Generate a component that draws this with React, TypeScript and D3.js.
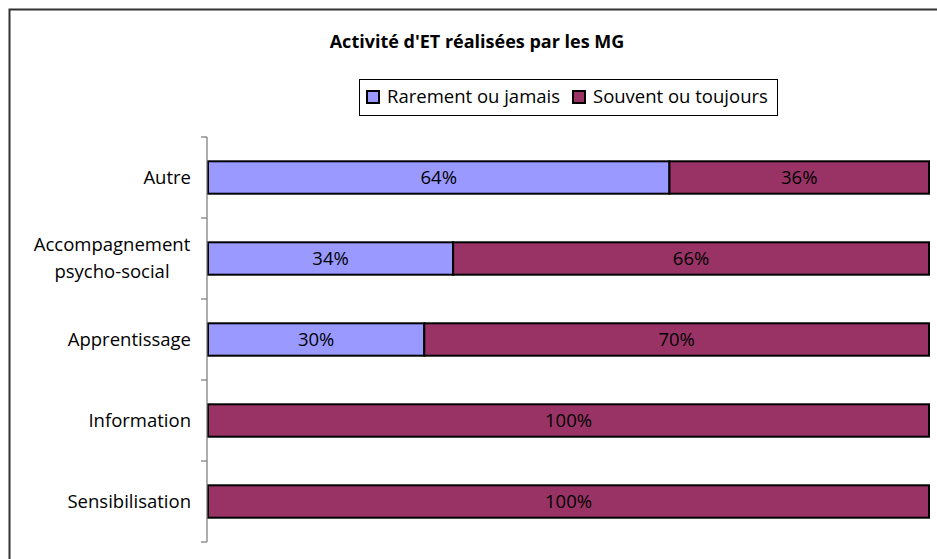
import React, { useEffect, useRef } from "react";
import * as d3 from "d3";

const categories = ["Autre", "Accompagnement psycho-social", "Apprentissage", "Information", "Sensibilisation"];
const categoryLines = [["Autre"], ["Accompagnement", "psycho-social"], ["Apprentissage"], ["Information"], ["Sensibilisation"]];
const seriesNames = ["Rarement ou jamais", "Souvent ou toujours"];
const rarement = [64, 34, 30, 0, 0];
const souvent = [36, 66, 70, 100, 100];
const colors = ["#9999FF", "#993366"];

const FONT = "'Open Sans', Lato, sans-serif";

const App = () => {
  const svgRef = useRef<SVGSVGElement | null>(null);

  useEffect(() => {
    const width = 937;
    const height = 559;
    const margin = { top: 137, right: 8, bottom: 17, left: 208 };
    const svg = d3.select(svgRef.current);
    svg.selectAll("*").remove();

    // chart frame
    svg.append("rect")
      .attr("x", 9.5).attr("y", 9.5)
      .attr("width", 940).attr("height", 560)
      .attr("fill", "white").attr("stroke", "#333").attr("stroke-width", 2);

    const x = d3.scaleLinear().domain([0, 100]).range([margin.left, width - margin.right]);
    const y = d3.scaleBand().domain(categories).range([margin.top, height - margin.bottom]).paddingInner(0.6).paddingOuter(0.3);

    const rows = categories.map((c, i) => ({ c, vals: [rarement[i], souvent[i]] }));
    const stack = d3.stack<any>().keys(["0", "1"]).value((d, k) => d.vals[+k]);
    const series = stack(rows);

    series.forEach((s, si) => {
      const g = svg.append("g");
      s.forEach((d, i) => {
        const v = d[1] - d[0];
        if (v <= 0) return;
        const cy = y(categories[i])!;
        g.append("rect")
          .attr("x", x(d[0])).attr("y", cy)
          .attr("width", x(d[1]) - x(d[0])).attr("height", y.bandwidth())
          .attr("fill", colors[si]).attr("stroke", "#000").attr("stroke-width", 2);
        g.append("text")
          .attr("x", (x(d[0]) + x(d[1])) / 2).attr("y", cy + y.bandwidth() / 2)
          .attr("dy", "0.35em").attr("text-anchor", "middle")
          .attr("font-family", FONT).attr("font-size", 18.5).attr("fill", "#000")
          .text(`${v}%`);
      });
    });

    // y axis with boundary ticks
    const step = y.step();
    const axis = svg.append("g").attr("stroke", "#777").attr("stroke-width", 1.2);
    axis.append("line").attr("x1", 207).attr("x2", 207).attr("y1", margin.top).attr("y2", height - margin.bottom);
    d3.range(categories.length + 1).forEach((i) => {
      const ty = margin.top + i * step;
      axis.append("line").attr("x1", 201).attr("x2", 207).attr("y1", ty).attr("y2", ty);
    });

    categories.forEach((c, i) => {
      const lines = categoryLines[i];
      const cy = y(c)! + y.bandwidth() / 2;
      const t = svg.append("text")
        .attr("font-family", FONT).attr("font-size", 18.5).attr("fill", "#000")
        .attr("text-anchor", lines.length > 1 ? "middle" : "end");
      lines.forEach((l, j) => {
        t.append("tspan")
          .attr("x", lines.length > 1 ? 112 : 191)
          .attr("y", cy + (j - (lines.length - 1) / 2) * 27)
          .attr("dy", "0.35em")
          .text(l);
      });
    });

    // title
    svg.append("text")
      .attr("x", 477).attr("y", 42).attr("dy", "0.35em").attr("text-anchor", "middle")
      .attr("font-family", FONT).attr("font-size", 18).attr("font-weight", "bold")
      .text("Activité d'ET réalisées par les MG");

    // legend
    const lg = svg.append("g");
    lg.append("rect").attr("x", 359.5).attr("y", 79.5).attr("width", 418).attr("height", 36)
      .attr("fill", "white").attr("stroke", "#000").attr("stroke-width", 1);
    const legendX = [367, 573];
    seriesNames.forEach((n, i) => {
      lg.append("rect").attr("x", legendX[i]).attr("y", 91).attr("width", 12).attr("height", 12)
        .attr("fill", colors[i]).attr("stroke", "#000").attr("stroke-width", 2);
      lg.append("text").attr("x", legendX[i] + 20).attr("y", 97).attr("dy", "0.35em")
        .attr("font-family", FONT).attr("font-size", 18.5).text(n);
    });
  }, []);

  return (
    <svg ref={svgRef} width={937} height={559} style={{ position: "absolute", left: 0, top: 0 }} />
  );
};

export default App;
